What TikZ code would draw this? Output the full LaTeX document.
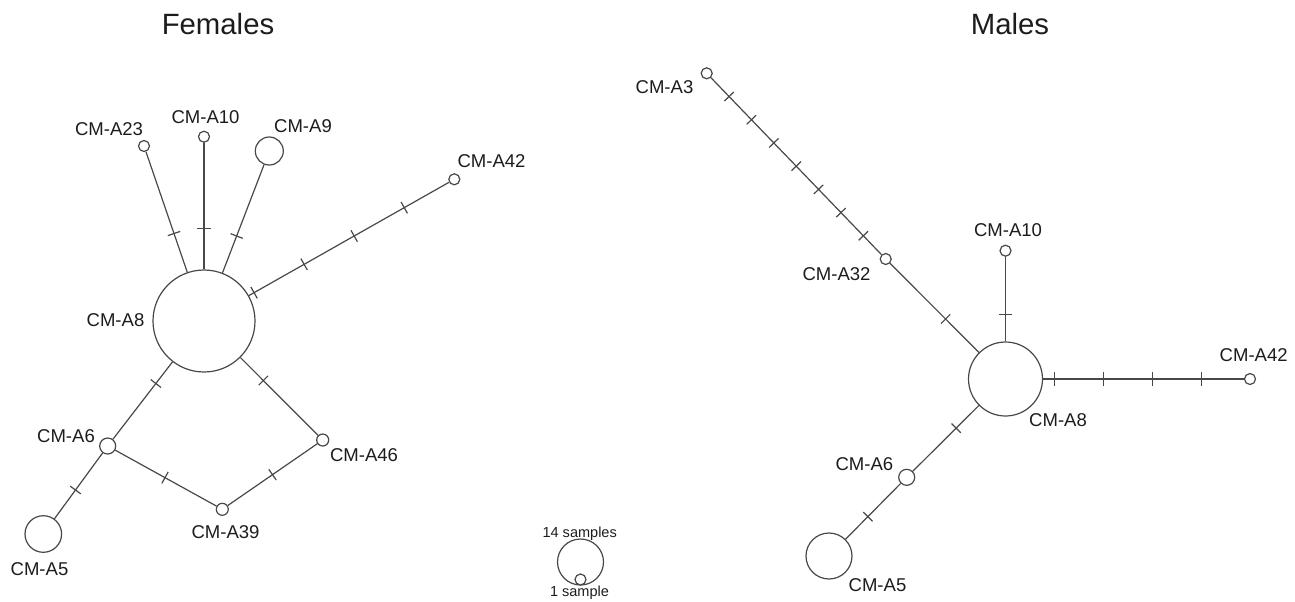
\documentclass[tikz,border=0pt]{standalone}
\usepackage{fontspec}
\setmainfont{Liberation Sans}
\usetikzlibrary{calc}

\definecolor{inkline}{RGB}{72,72,72}
\definecolor{inktext}{RGB}{28,28,28}

% mutation ticks spaced evenly between the centres of two haplotypes
\newcommand\mutticks[3]{%
  \foreach \k in {1,...,#3}{%
    \coordinate (tk) at ($(#1.center)!{\k/(#3+1)}!(#2.center)$);
    \draw[link] ($(tk)!4.9pt!90:(#2.center)$) -- ($(tk)!4.9pt!-90:(#2.center)$);
  }}

\begin{document}
\begin{tikzpicture}[x=0.75pt,y=-0.75pt,
  link/.style={draw=inkline,line width=0.9pt},
  hap/.style={circle,draw=inkline,line width=0.9pt,fill=white,inner sep=0pt,minimum size=#1*1.5pt},
  lab/.style={text=inktext,inner sep=0pt,anchor=base,font=\fontsize{13.9}{16}\selectfont},
  ttl/.style={text=inktext,inner sep=0pt,anchor=base,font=\fontsize{22}{26}\selectfont},
  lgd/.style={text=inktext,inner sep=0pt,anchor=base,font=\fontsize{10.9}{13}\selectfont}]
\useasboundingbox (0,0) rectangle (1295,601);

% ---------------- Females ----------------
\node[ttl] (tF) at (218,34) {Females};
\node[hap=51]  (fA8)  at (204,321) {};
\node[hap=5.5] (fA23) at (144,146) {};
\node[hap=5.5] (fA10) at (204,136.7) {};
\node[hap=14]  (fA9)  at (269.3,151) {};
\node[hap=5.5] (fA42) at (454.3,179.3) {};
\node[hap=8]   (fA6)  at (107.7,446) {};
\node[hap=18.3](fA5)  at (43.3,534) {};
\node[hap=6]   (fA39) at (222.3,509.3) {};
\node[hap=6]   (fA46) at (322.7,440) {};

\draw[link] (fA8) -- (fA23);  \mutticks{fA8}{fA23}{1}
\draw[link] (fA8) -- (fA10);  \mutticks{fA8}{fA10}{1}
\draw[link] (fA8) -- (fA9);   \mutticks{fA8}{fA9}{1}
\draw[link] (fA8) -- (fA42);  \mutticks{fA8}{fA42}{4}
\draw[link] (fA8) -- (fA6);   \mutticks{fA8}{fA6}{1}
\draw[link] (fA8) -- (fA46);  \mutticks{fA8}{fA46}{1}
\draw[link] (fA6) -- (fA5);   \mutticks{fA6}{fA5}{1}
\draw[link] (fA6) -- (fA39);  \mutticks{fA6}{fA39}{1}
\draw[link] (fA39) -- (fA46); \mutticks{fA39}{fA46}{1}

\node[lab] (lfA23) at (109,135.6) {CM-A23};
\node[lab] (lfA10) at (205.5,123.3) {CM-A10};
\node[lab] (lfA9)  at (303,132.3) {CM-A9};
\node[lab] (lfA42) at (491.5,167.6) {CM-A42};
\node[lab] (lfA8)  at (115.5,326.6) {CM-A8};
\node[lab] (lfA6)  at (66,442.6) {CM-A6};
\node[lab] (lfA46) at (364,461.6) {CM-A46};
\node[lab] (lfA39) at (225.5,538.6) {CM-A39};
\node[lab] (lfA5)  at (39.5,575.6) {CM-A5};

% ---------------- size legend ----------------
\node[hap=23]  (k14) at (580.5,562) {};
\node[hap=5.5] (k1)  at (580.5,579.5) {};
\node[lgd] (lk14) at (579.7,537.6) {14 samples};
\node[lgd] (lk1)  at (579.5,596.5) {1 sample};

% ---------------- Males ----------------
\node[ttl] (tM) at (1010,34) {Males};
\node[hap=37]  (mA8)  at (1005.5,379) {};
\node[hap=5.5] (mA3)  at (706.7,73.3) {};
\node[hap=5.5] (mA32) at (885.7,259) {};
\node[hap=5.5] (mA10) at (1005.5,250.7) {};
\node[hap=5.5] (mA42) at (1250,379) {};
\node[hap=8]   (mA6)  at (906.7,477.3) {};
\node[hap=23]  (mA5)  at (829,556) {};

\draw[link] (mA3) -- (mA32);  \mutticks{mA3}{mA32}{7}
\draw[link] (mA32) -- (mA8);  \mutticks{mA32}{mA8}{1}
\draw[link] (mA8) -- (mA10);  \mutticks{mA8}{mA10}{1}
\draw[link] (mA8) -- (mA42);  \mutticks{mA8}{mA42}{4}
\draw[link] (mA8) -- (mA6);   \mutticks{mA8}{mA6}{1}
\draw[link] (mA6) -- (mA5);   \mutticks{mA6}{mA5}{1}

\node[lab] (lmA3)  at (664.5,93.3) {CM-A3};
\node[lab] (lmA32) at (836.5,280.6) {CM-A32};
\node[lab] (lmA10) at (1008,236) {CM-A10};
\node[lab] (lmA42) at (1253.7,361.6) {CM-A42};
\node[lab] (lmA8)  at (1058,426.6) {CM-A8};
\node[lab] (lmA6)  at (864.4,470) {CM-A6};
\node[lab] (lmA5)  at (877.5,591.6) {CM-A5};
\end{tikzpicture}
\end{document}
